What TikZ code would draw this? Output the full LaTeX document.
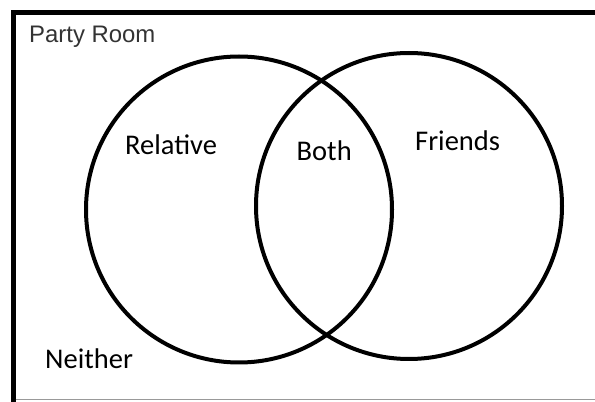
\documentclass[tikz,border=0pt]{standalone}
\usepackage{fontspec}
\setmainfont{Carlito}
\newfontfamily\roomfont{Liberation Sans}
\usepackage{xcolor}
\usepackage{tikz}
\definecolor{VennLine}{HTML}{000000}
\definecolor{RoomText}{HTML}{333333}
\definecolor{RoomEdge}{HTML}{999999}
\tikzset{
  setlabel/.style={anchor=base west,inner sep=0pt,font=\fontsize{28.5}{34}\selectfont},
  setring/.style={VennLine,line width=4pt}
}

\begin{document}
\begin{tikzpicture}[x=1pt,y=1pt]
\path[use as bounding box] (0,0) rectangle (595,402);
\draw[VennLine,line width=5pt] (13,-5) -- (13,389.5) -- (600,389.5);
\draw[RoomEdge,line width=1.5pt] (15.5,2.5) -- (595,2.5);
\node[anchor=base west,inner sep=0pt,text=RoomText,font=\roomfont\fontsize{23.9}{28}\selectfont] (room) at (29,359) {Party Room};
\draw[setring] (239,192.5) circle (153);
\draw[setring] (409,196) circle (153);
\node[setlabel] (relative) at (125,247) {Relative};
\node[setlabel] (both) at (296.5,241.3) {Both};
\node[setlabel] (friends) at (415,251.3) {Friends};
\node[setlabel] (neither) at (45,33) {Neither};
\end{tikzpicture}
\end{document}
